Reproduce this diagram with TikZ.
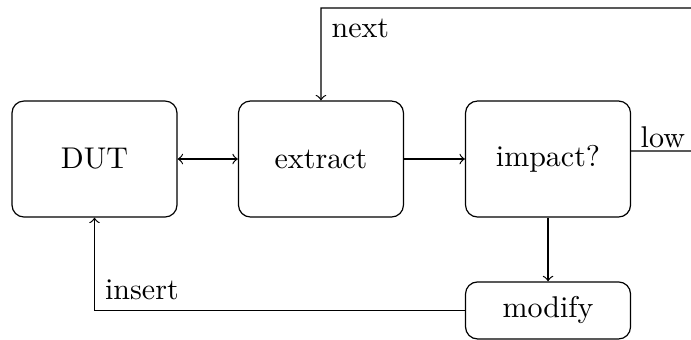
\documentclass[tikz,border=0pt]{standalone}

\begin{document}
\begin{tikzpicture}
\tikzstyle{stage} = [rectangle, rounded corners, draw=black, minimum width=1.933cm, minimum height=1.359cm]
\tikzstyle{action} = [rectangle, rounded corners, draw=black, minimum width=1.933cm, minimum height=0.668cm]

\useasboundingbox (0,0) rectangle (8.095,3.983);

\node(dut) [stage] at (1.107,2.120) {DUT};
\node(extract) [stage] at (3.760,2.120) {extract};
\node(impact) [stage] at (6.420,2.120) {impact?};
\node(modify) [action] at (6.420,0.346) {modify};

\coordinate(lowStart) at ([yshift=0.094cm]impact.east);
\coordinate(lowEnd) at (8.12,2.214);
\coordinate(nextCorner) at (3.760,3.889);

\draw[<->] (dut) -- (extract);
\draw[->] (extract) -- (impact);
\draw[->] (impact) -- (modify);
\draw[->] (modify.west) -| node[pos=0.5, anchor=south west] {insert} (dut.south);
\draw[->] (lowStart) -- node[pos=0, anchor=south west, inner xsep=3pt, inner ysep=1pt] {low} (lowEnd)
  |- (nextCorner) node[anchor=north west] {next} -- (extract.north);
\end{tikzpicture}
\end{document}
